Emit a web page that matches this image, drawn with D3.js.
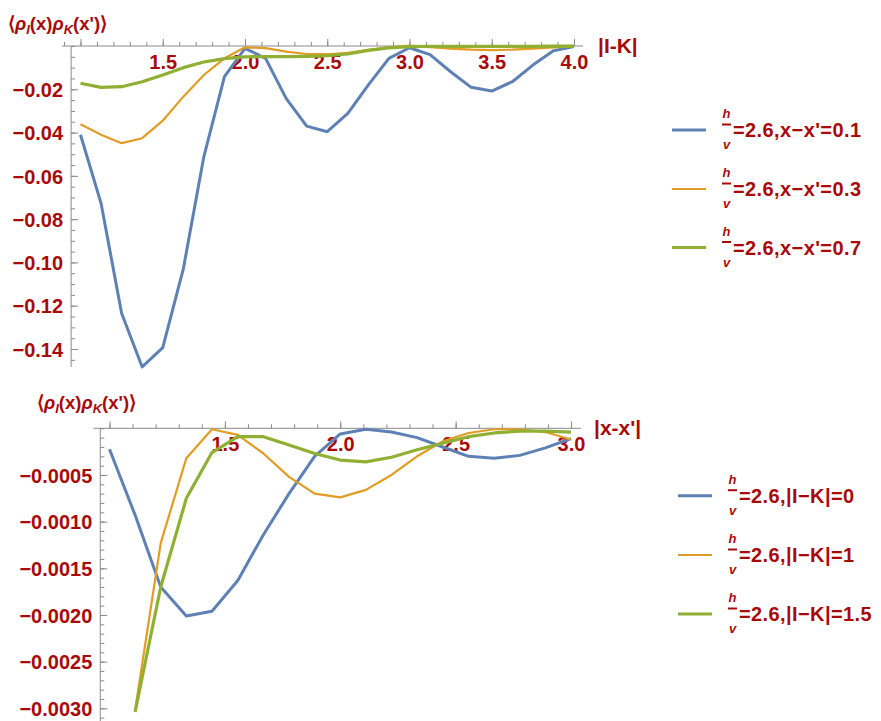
<!DOCTYPE html>
<html>
<head>
<meta charset="utf-8">
<script src="https://cdn.jsdelivr.net/npm/d3@7"></script>
<style>
  body { margin: 0; background: #fff; }
  text { font-family: "Liberation Sans", Arial, sans-serif; }
</style>
</head>
<body>
<svg id="chart" width="881" height="721"></svg>
<script>
// ---- Upper panel: correlation vs |I-K| ----
const topX = [1.0, 1.125, 1.25, 1.375, 1.5, 1.625, 1.75, 1.875, 2.0, 2.125, 2.25, 2.375, 2.5,
              2.625, 2.75, 2.875, 3.0, 3.125, 3.25, 3.375, 3.5, 3.625, 3.75, 3.875, 4.0];
const topBlue = [-0.0410, -0.0727, -0.1235, -0.1483, -0.1394, -0.1030, -0.0511, -0.0142, -0.0011,
                 -0.0057, -0.0242, -0.0370, -0.0396, -0.0311, -0.0180, -0.0057, -0.0008, -0.0040,
                 -0.0119, -0.0191, -0.0208, -0.0165, -0.0088, -0.0022, -0.0003];
const topOrange = [-0.0362, -0.0410, -0.0449, -0.0426, -0.0345, -0.0234, -0.0134, -0.0057, -0.0006,
                   -0.0010, -0.0026, -0.0037, -0.0038, -0.0032, -0.0018, -0.0006, 0.0002, -0.0005,
                   -0.0012, -0.0017, -0.0019, -0.0017, -0.0012, -0.0006, -0.0002];
const topGreen = [-0.0172, -0.0191, -0.0188, -0.0165, -0.0134, -0.0100, -0.0074, -0.0058, -0.0050,
                  -0.0049, -0.0049, -0.0048, -0.0045, -0.0037, -0.0020, -0.0009, -0.0003, -0.0002,
                  -0.0002, -0.0002, -0.0002, -0.0002, -0.0002, -0.0001, -0.0001];
const topXTicks = [1.0, 1.5, 2.0, 2.5, 3.0, 3.5, 4.0];
const topXTickLabels = ["", "1.5", "2.0", "2.5", "3.0", "3.5", "4.0"];
const topYTicks = [-0.02, -0.04, -0.06, -0.08, -0.10, -0.12, -0.14];
const topYTickLabels = ["\u22120.02", "\u22120.04", "\u22120.06", "\u22120.08", "\u22120.10", "\u22120.12", "\u22120.14"];
const topLegend = ["=2.6,x\u2212x'=0.1", "=2.6,x\u2212x'=0.3", "=2.6,x\u2212x'=0.7"];

// ---- Lower panel: correlation vs |x-x'| ----
const botX = [1.0, 1.111, 1.222, 1.333, 1.444, 1.556, 1.667, 1.778, 1.889, 2.0,
              2.111, 2.222, 2.333, 2.444, 2.556, 2.667, 2.778, 2.889, 3.0];
const botBlue = [-0.000225, -0.00093, -0.00170, -0.00201, -0.00196, -0.00163, -0.00114, -0.00070,
                 -0.00030, -0.00006, -0.00001, -0.00004, -0.00010, -0.00020, -0.00030, -0.00032,
                 -0.00029, -0.00021, -0.00011];
const botOrange = [null, -0.00302, -0.00123, -0.00032, -0.00001, -0.00007, -0.00027, -0.00052,
                   -0.00070, -0.00074, -0.00066, -0.00050, -0.00030, -0.00014, -0.00005, -0.00001,
                   -0.00001, -0.00004, -0.00012];
const botGreen = [null, -0.00304, -0.00170, -0.00075, -0.00026, -0.00009, -0.00009, -0.00018,
                  -0.00027, -0.00034, -0.00036, -0.00031, -0.00023, -0.00016, -0.00009, -0.00005,
                  -0.00003, -0.00003, -0.00004];
const botXTicks = [1.0, 1.5, 2.0, 2.5, 3.0];
const botXTickLabels = ["", "1.5", "2.0", "2.5", "3.0"];
const botYTicks = [-0.0005, -0.0010, -0.0015, -0.0020, -0.0025, -0.0030];
const botYTickLabels = ["\u22120.0005", "\u22120.0010", "\u22120.0015", "\u22120.0020", "\u22120.0025", "\u22120.0030"];
const botLegend = ["=2.6,|I\u2212K|=0", "=2.6,|I\u2212K|=1", "=2.6,|I\u2212K|=1.5"];

const colors = ["#5E81B5", "#E19C24", "#8FB032"];
const widths = [3, 2.2, 3.2];
const textColor = "#a80a0a";
const axisColor = "#8a8a8a";

const svg = d3.select("#chart");

function panel(o) {
  const g = svg.append("g");
  const x = o.x, y = o.y;
  const x0 = x(o.yAxisAt);
  const y0 = y(0);

  // axis lines
  g.append("line").attr("x1", x(o.xLine[0])).attr("x2", x(o.xLine[1]))
    .attr("y1", y0).attr("y2", y0).attr("stroke", axisColor).attr("stroke-width", 1);
  g.append("line").attr("x1", x0).attr("x2", x0)
    .attr("y1", y0).attr("y2", o.yLineEnd).attr("stroke", axisColor).attr("stroke-width", 1);

  // x ticks (pointing up, labels below)
  const xMinor = g.append("g").attr("transform", `translate(0,${y0})`)
    .call(d3.axisBottom(x).tickValues(o.xMinor).tickSize(-4).tickFormat(""));
  const xMajor = g.append("g").attr("transform", `translate(0,${y0})`)
    .call(d3.axisBottom(x).tickValues(o.xTicks).tickSize(-7).tickPadding(9)
      .tickFormat((d, i) => o.xTickLabels[i]));
  // y ticks (pointing right, labels left)
  const yMinor = g.append("g").attr("transform", `translate(${x0},0)`)
    .call(d3.axisLeft(y).tickValues(o.yMinor).tickSize(-4).tickFormat(""));
  const yMajor = g.append("g").attr("transform", `translate(${x0},0)`)
    .call(d3.axisLeft(y).tickValues(o.yTicks).tickSize(-7).tickPadding(8)
      .tickFormat((d, i) => o.yTickLabels[i]));

  [xMinor, xMajor, yMinor, yMajor].forEach(a => {
    a.select(".domain").remove();
    a.selectAll("line").attr("stroke", axisColor).attr("stroke-width", 1);
    a.selectAll("text").attr("fill", textColor).attr("font-size", o.tickFont)
      .attr("font-weight", "bold").attr("font-family", "'Liberation Sans', Arial, sans-serif");
  });
  yMajor.selectAll("text").attr("dy", "0.36em");

  // series
  const line = d3.line().defined(d => d[1] !== null).x(d => x(d[0])).y(d => y(d[1]));
  o.series.forEach((s, i) => {
    g.append("path").datum(o.xs.map((v, k) => [v, s[k]]))
      .attr("d", line).attr("fill", "none")
      .attr("stroke", colors[i]).attr("stroke-width", widths[i])
      .attr("stroke-linejoin", "round").attr("stroke-linecap", "butt");
  });

  // vertical axis title  <ρ_I(x) ρ_K(x')>
  const t = g.append("text").attr("x", o.title[0]).attr("y", o.title[1])
    .attr("fill", textColor).attr("font-size", 18.5).attr("font-weight", "bold");
  t.append("tspan").text("\u27E8");
  t.append("tspan").attr("font-style", "italic").text("\u03C1");
  t.append("tspan").attr("font-style", "italic").attr("font-size", 13).attr("dy", 4).text("I");
  t.append("tspan").attr("dy", -4).text("(x)");
  t.append("tspan").attr("font-style", "italic").text("\u03C1");
  t.append("tspan").attr("font-style", "italic").attr("font-size", 13).attr("dy", 4).text("K");
  t.append("tspan").attr("dy", -4).text("(x')\u27E9");

  // horizontal axis title
  g.append("text").attr("x", o.xTitle[0]).attr("y", o.xTitle[1])
    .attr("fill", textColor).attr("font-size", 21).attr("font-weight", "bold").text(o.xTitleText);

  // legend
  o.legendY.forEach((ly, i) => {
    const lx = o.legendX;
    g.append("line").attr("x1", lx).attr("x2", lx + 34).attr("y1", ly).attr("y2", ly)
      .attr("stroke", colors[i]).attr("stroke-width", widths[i]);
    const fx = lx + 50;
    g.append("text").attr("x", fx + 4.5).attr("y", ly - 12).attr("text-anchor", "middle")
      .attr("fill", textColor).attr("font-size", 13).attr("font-weight", "bold")
      .attr("font-style", "italic").text("h");
    g.append("line").attr("x1", fx).attr("x2", fx + 9).attr("y1", ly - 5.5).attr("y2", ly - 5.5)
      .attr("stroke", textColor).attr("stroke-width", 2);
    g.append("text").attr("x", fx + 4.5).attr("y", ly + 19).attr("text-anchor", "middle")
      .attr("fill", textColor).attr("font-size", 13).attr("font-weight", "bold")
      .attr("font-style", "italic").text("v");
    g.append("text").attr("x", fx + 11).attr("y", ly + 7)
      .attr("fill", textColor).attr("font-size", 20).attr("font-weight", "bold")
      .attr("letter-spacing", 0.4).text(o.legend[i]);
  });
}

panel({
  x: d3.scaleLinear().domain([1, 4]).range([80.5, 574]),
  y: d3.scaleLinear().domain([0, -0.14]).range([46, 349]),
  yAxisAt: 0.943, xLine: [0.888, 4.055], yLineEnd: 367,
  xs: topX, series: [topBlue, topOrange, topGreen],
  xTicks: topXTicks, xTickLabels: topXTickLabels,
  xMinor: d3.range(9, 41).map(k => k / 10),
  yTicks: topYTicks, yTickLabels: topYTickLabels,
  yMinor: d3.range(0, 30).map(k => -k * 0.005),
  tickFont: 20,
  title: [8, 30], xTitle: [598, 53], xTitleText: "|I-K|",
  legendX: 672, legendY: [130, 189, 247.5], legend: topLegend
});

panel({
  x: d3.scaleLinear().domain([1, 3]).range([109.5, 571]),
  y: d3.scaleLinear().domain([0, -0.003]).range([428.3, 708.3]),
  yAxisAt: 0.96, xLine: [0.93, 3.043], yLineEnd: 721,
  xs: botX, series: [botBlue, botOrange, botGreen],
  xTicks: botXTicks, xTickLabels: botXTickLabels,
  xMinor: d3.range(10, 31).map(k => k / 10),
  yTicks: botYTicks, yTickLabels: botYTickLabels,
  yMinor: d3.range(0, 32).map(k => -k * 0.0001),
  tickFont: 20,
  title: [37, 409], xTitle: [594, 435], xTitleText: "|x-x'|",
  legendX: 678, legendY: [495.7, 555, 614], legend: botLegend
});
</script>
</body>
</html>
